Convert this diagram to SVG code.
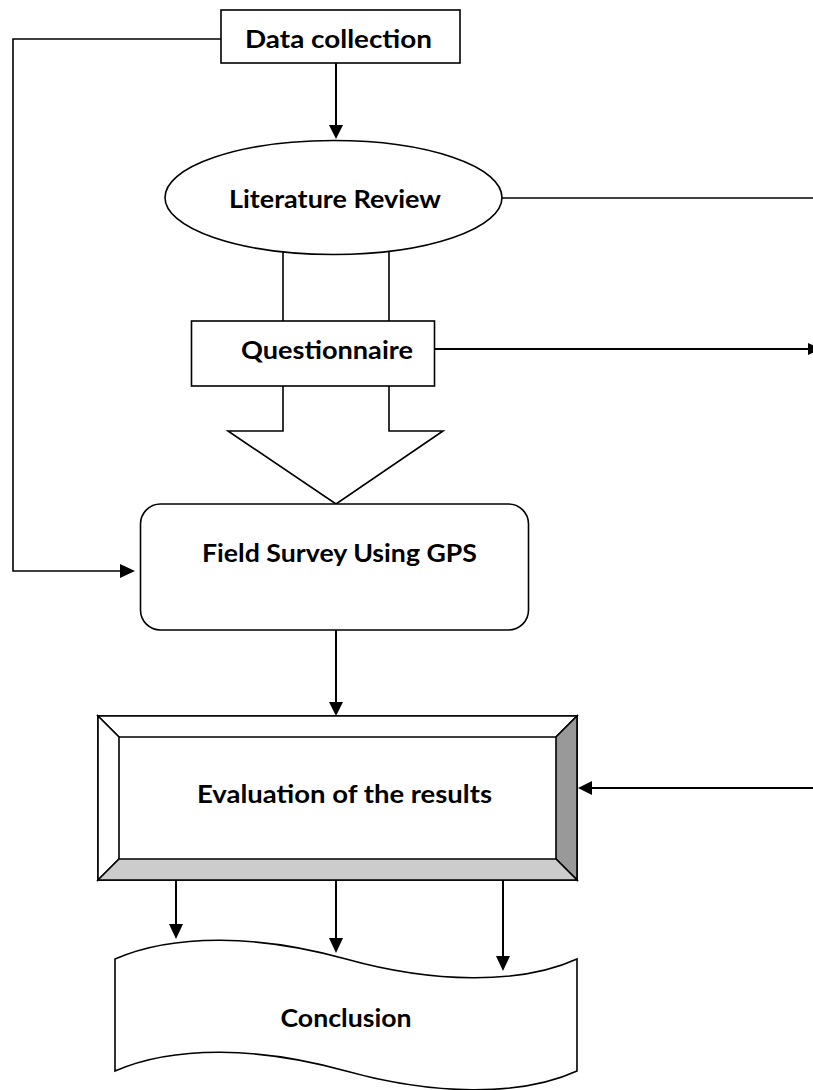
<svg xmlns="http://www.w3.org/2000/svg" width="813" height="1090" viewBox="0 0 813 1090">
<style>
.box{fill:#fff;stroke:#000;stroke-width:1.6}
.lbl{font-family:Lato,"Liberation Sans",sans-serif;font-weight:bold;font-size:25px;fill:#000}
.con{fill:none;stroke:#000;stroke-width:1.6}
.arr{fill:none;stroke:#000;stroke-width:2}
.head{fill:#000}
</style>
<rect width="813" height="1090" fill="#fff"/>
<g id="connectors">
<polyline class="con" points="221,39 13,39 13,571 120,571"/>
<polygon class="head" points="120,564 135,571 120,578"/>
<line class="arr" x1="336" y1="63" x2="336" y2="125"/>
<polygon class="head" points="329,125 336,139 343,125"/>
<line class="con" x1="502" y1="198" x2="813" y2="198"/>
<line class="arr" x1="434" y1="349" x2="808" y2="349"/>
<polygon class="head" points="808,343 822,349 808,355"/>
<line class="arr" x1="336" y1="630" x2="336" y2="702"/>
<polygon class="head" points="329,702 336,716 343,702"/>
<line class="arr" x1="813" y1="788" x2="592" y2="788"/>
<polygon class="head" points="592,781 578,788 592,795"/>
<line class="arr" x1="176" y1="880" x2="176" y2="924"/>
<polygon class="head" points="169,924 176,939 183,924"/>
<line class="arr" x1="336" y1="880" x2="336" y2="938"/>
<polygon class="head" points="329,938 336,953 343,938"/>
<line class="arr" x1="503" y1="880" x2="503" y2="956"/>
<polygon class="head" points="496,956 503,971 510,956"/>
</g>
<g id="block-arrow">
<polygon class="box" points="283,250 389,250 389,431 443,431 336,504 228,431 283,431"/>
</g>
<g id="data-collection">
<rect class="box" x="221" y="10" width="239" height="53"/>
<text class="lbl" x="338.5" y="48" text-anchor="middle" textLength="187" lengthAdjust="spacingAndGlyphs">Data collection</text>
</g>
<g id="literature-review">
<ellipse class="box" cx="333.5" cy="197.5" rx="168.5" ry="57"/>
<text class="lbl" x="335" y="208" text-anchor="middle" textLength="212" lengthAdjust="spacingAndGlyphs">Literature Review</text>
</g>
<g id="questionnaire">
<rect class="box" x="191.5" y="321" width="243" height="65"/>
<text class="lbl" x="327" y="359" text-anchor="middle" textLength="172" lengthAdjust="spacingAndGlyphs">Questionnaire</text>
</g>
<g id="field-survey">
<rect class="box" x="140.5" y="504" width="388" height="126" rx="20" ry="20"/>
<text class="lbl" x="339.5" y="562" text-anchor="middle" textLength="275" lengthAdjust="spacingAndGlyphs">Field Survey Using GPS</text>
</g>
<g id="evaluation">
<rect class="box" x="98" y="716" width="479" height="164"/>
<polygon class="box" points="98,716 577,716 556,737 119,737"/>
<polygon class="box" points="98,716 119,737 119,859 98,880"/>
<polygon class="box" style="fill:#999" points="577,716 577,880 556,859 556,737"/>
<polygon class="box" style="fill:#ccc" points="98,880 119,859 556,859 577,880"/>
<text class="lbl" x="344.5" y="803" text-anchor="middle" textLength="295" lengthAdjust="spacingAndGlyphs">Evaluation of the results</text>
</g>
<g id="conclusion">
<path class="box" d="M115,959 C175,933 260,935 346,959 S520,985 577,959 L577,1071 C520,1097 432,1095 346,1071 S175,1045 115,1071 Z"/>
<text class="lbl" x="346" y="1027" text-anchor="middle" textLength="131" lengthAdjust="spacingAndGlyphs">Conclusion</text>
</g>
</svg>
